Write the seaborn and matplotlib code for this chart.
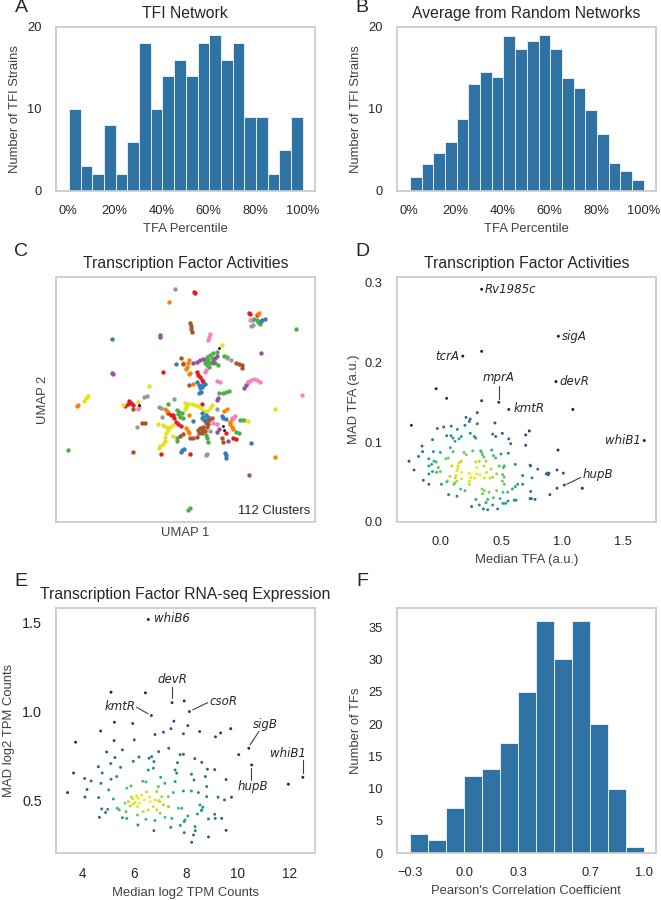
import numpy as np
import pandas as pd
import matplotlib
matplotlib.use("Agg")
import matplotlib.pyplot as plt
import seaborn as sns

# ---------- histogram data ----------
tfi_counts = [10, 3, 2, 8, 2, 6, 18, 10, 14, 16, 14, 18, 19, 16, 18, 9, 9, 2, 5, 9]
random_counts = [1.7, 3.2, 4.6, 6.0, 8.8, 13.0, 14.5, 13.9, 18.9, 17.3, 18.2, 19.0, 17.3,
                 13.8, 12.5, 9.9, 6.9, 3.4, 2.4, 1.3]
corr_counts = [3, 2, 7, 12, 13, 17, 25, 36, 30, 36, 20, 10, 1]
pct_ticks = [0, 20, 40, 60, 80, 100]
pct_labels = ["0%", "20%", "40%", "60%", "80%", "100%"]
corr_ticks = [-0.3, 0.0, 0.3, 0.7, 1.0]
corr_labels = ["\u22120.3", "0.0", "0.3", "0.7", "1.0"]

# ---------- panel D data ----------
tfa_median = [0.336,0.97,0.336,0.18,0.95,-0.04,0.047,0.336,0.477,0.56,1.09,1.68,-0.245,0.30,0.207,0.242,0.234,0.30,0.198,0.446,
 -0.03,0.022,0.135,0.085,-0.07,0.047,0.083,0.10,0.116,0.149,0.168,0.242,0.275,0.287,0.427,0.507,0.452,0.56,0.576,0.70,
 0.73,0.70,0.967,-0.157,-0.152,-0.185,-0.264,-0.223,-0.063,-0.005,0.10,0.077,0.06,0.04,-0.10,-0.058,-0.04,-0.10,-0.077,-0.022,
 -0.07,-0.10,-0.146,-0.10,-0.036,-0.006,0.047,0.003,0.063,0.132,0.19,0.209,0.15,0.14,0.168,0.088,0.14,0.13,0.17,0.124,
 0.118,0.132,0.17,0.074,0.052,0.116,0.163,0.198,0.107,0.262,0.328,0.336,0.344,0.355,0.317,0.372,0.287,0.419,0.433,0.452,
 0.496,0.556,0.614,0.482,0.515,0.523,0.355,0.295,0.413,0.229,0.24,0.295,0.322,0.25,0.234,0.245,0.234,0.278,0.358,0.405,
 0.427,0.46,0.51,0.523,0.507,0.523,0.377,0.339,0.358,0.397,0.344,0.46,0.512,0.488,0.433,0.386,0.372,0.289,0.253,0.317,
 0.35,0.386,0.468,0.427,0.512,0.534,0.554,0.606,0.62,0.551,0.59,0.614,0.634,0.675,0.675,0.752,0.736,0.741,0.80,0.87,
 0.882,0.893,0.887,0.959,1.011,1.019,0.959,0.90,1.168,0.741,0.736,0.747,0.777]
tfa_mad = [0.292,0.233,0.214,0.208,0.176,0.167,0.155,0.152,0.150,0.141,0.141,0.102,0.121,0.137,0.131,0.129,0.126,0.123,0.121,0.124,
 0.117,0.119,0.116,0.120,0.103,0.108,0.108,0.105,0.101,0.104,0.107,0.111,0.107,0.105,0.110,0.111,0.107,0.104,0.098,0.109,
 0.114,0.096,0.090,0.095,0.088,0.082,0.076,0.065,0.088,0.087,0.088,0.093,0.080,0.079,0.079,0.076,0.075,0.070,0.072,0.068,
 0.063,0.060,0.052,0.047,0.062,0.063,0.050,0.047,0.034,0.032,0.087,0.084,0.074,0.070,0.076,0.070,0.067,0.064,0.062,0.058,
 0.055,0.051,0.054,0.057,0.051,0.049,0.041,0.039,0.047,0.089,0.089,0.087,0.084,0.081,0.076,0.076,0.075,0.090,0.083,0.080,
 0.085,0.086,0.072,0.070,0.068,0.070,0.070,0.068,0.066,0.061,0.060,0.060,0.059,0.056,0.051,0.055,0.047,0.055,0.055,0.055,
 0.056,0.060,0.059,0.056,0.051,0.047,0.062,0.041,0.039,0.037,0.035,0.039,0.037,0.029,0.030,0.028,0.024,0.028,0.019,0.021,
 0.016,0.015,0.016,0.021,0.023,0.023,0.026,0.027,0.027,0.037,0.041,0.044,0.047,0.047,0.058,0.055,0.071,0.070,0.066,0.060,
 0.061,0.061,0.059,0.065,0.061,0.046,0.042,0.034,0.042,0.038,0.029,0.029,0.028]

# ---------- panel E data ----------
rna_median = [6.55,5.11,6.44,7.94,7.47,8.14,6.67,5.24,5.95,7.54,8.08,7.43,4.71,3.74,5.23,6.01,6.81,7.14,7.91,8.54,
 9.15,9.35,9.74,10.44,10.05,10.55,12.53,11.97,3.66,3.43,4.09,4.34,4.18,4.10,4.62,4.94,5.26,5.55,5.10,4.77,
 4.72,5.11,5.02,4.63,4.75,4.98,4.90,4.66,5.2,5.35,5.43,5.55,5.72,5.69,6.15,6.46,6.77,6.81,7.42,7.79,
 7.94,7.97,8.23,8.30,8.37,8.88,9.56,9.39,9.12,8.88,8.45,8.62,8.81,9.25,9.50,9.77,9.56,9.12,8.84,8.62,
 8.35,7.91,7.78,7.34,6.95,6.68,5.97,6.19,5.48,5.33,5.72,5.88,6.34,6.46,6.55,6.75,6.58,6.77,7.03,7.19,
 6.94,7.59,7.65,7.68,8.22,8.32,8.76,7.91,8.22,8.49,8.81,7.59,7.33,7.52,6.49,6.88,6.10,5.95,6.17,5.78,
 5.65,5.97,6.14,5.85,6.36,6.13,6.55,6.75,6.88,7.14,7.33,7.07,6.81,6.62,7.0,6.39,6.21,7.72,7.85,8.08,
 8.55,8.66,8.61,7.01,7.2,7.46,7.94,8.36,9.14,6.3,6.6,6.95,5.9,6.05]
rna_mad = [1.517,1.109,1.105,1.06,1.05,1.00,0.978,0.94,0.933,0.946,0.921,0.904,0.891,0.828,0.837,0.841,0.871,0.884,0.875,0.888,
 0.858,0.880,0.904,0.794,0.758,0.70,0.631,0.592,0.655,0.545,0.624,0.61,0.562,0.52,0.69,0.773,0.742,0.785,0.708,0.655,
 0.597,0.62,0.56,0.517,0.453,0.451,0.433,0.406,0.509,0.457,0.448,0.404,0.40,0.438,0.363,0.395,0.331,0.388,0.35,0.361,
 0.32,0.391,0.266,0.307,0.331,0.296,0.333,0.40,0.423,0.397,0.425,0.448,0.522,0.519,0.504,0.519,0.618,0.674,0.676,0.715,
 0.736,0.76,0.758,0.794,0.775,0.747,0.721,0.745,0.687,0.635,0.57,0.582,0.609,0.605,0.672,0.682,0.738,0.719,0.631,0.597,
 0.579,0.672,0.654,0.713,0.648,0.616,0.635,0.554,0.554,0.545,0.579,0.607,0.522,0.545,0.549,0.551,0.526,0.511,0.513,0.494,
 0.485,0.481,0.466,0.47,0.438,0.419,0.448,0.466,0.448,0.476,0.466,0.522,0.504,0.494,0.494,0.504,0.485,0.457,0.457,0.414,
 0.476,0.463,0.444,0.429,0.406,0.40,0.382,0.354,0.40,0.53,0.52,0.50,0.52,0.49]

# ---------- panel C data: UMAP coordinates (arbitrary units) per colour ----------
umap_red_1 = [583,586,747,749,770,489,590,595,600,605,610,376,384,392,398,386,607,505,513,520,522,528,535,542,677,483,570,700,708]
umap_red_2 = [66,68,128,132,136,305,306,314,322,330,336,407,402,400,405,392,403,430,435,435,445,455,462,468,490,553,553,505,506]
umap_orange_1 = [507,778,773,568,563,560,557,549,570,566,578,230,235,495,500,568,558,563,566,680,673,703,695,690,690,695,700,825]
umap_orange_2 = [95,128,133,270,280,290,297,280,308,312,343,408,404,418,424,435,475,483,490,418,422,440,447,455,463,472,478,562]
umap_yellow_1 = [666,447,251,258,265,369,413,825,555,558,555,565,575,585,595,603,612,622,630,636,475,490,497,503,510,518,497,495,494,488,480,477,518,735,745]
umap_yellow_2 = [224,348,392,385,378,405,395,418,400,410,418,403,402,405,408,415,423,422,415,405,462,465,472,480,472,465,488,500,512,522,528,533,497,451,452]
umap_green_1 = [889,203,755,762,770,775,780,617,622,630,640,650,625,635,628,620,635,640,615,628,645,655,673,680,658,668,678,686,505,530,537,545,540,548,535,720,728,708,716,617,620,624,530,530,565,570]
umap_green_2 = [176,540,150,148,150,155,163,270,262,255,250,245,270,265,278,285,280,272,280,290,280,285,257,262,370,368,367,363,403,420,425,430,440,443,432,450,450,485,488,495,505,515,505,512,720,713]
umap_blue_1 = [335,527,785,795,783,592,597,600,603,598,610,615,605,605,610,618,625,605,612,620,665,670,678,578,753,545,552,543,675,677,678]
umap_blue_2 = [206,282,150,148,152,335,345,355,365,368,345,342,352,430,440,435,440,445,450,450,437,445,448,453,519,540,536,545,548,556,564]
umap_purple_1 = [480,480,335,340,784,580,590,600,608,640,646,650,733,738,743,652,655,650,657,683,747]
umap_purple_2 = [196,200,308,313,248,278,275,270,266,275,265,258,355,345,337,390,383,485,476,512,616]
umap_pink_1 = [630,627,625,618,616,650,660,743,752,762,772,780,905,417,415,750,640,650,695,705]
umap_pink_2 = [192,202,210,300,305,332,336,335,331,327,330,337,375,412,417,150,458,463,445,437]
umap_brown_1 = [569,572,572,577,544,549,707,716,725,725,425,435,400,399,540,550,570,580,590,598,605,610,618,628,635,600,610,620,595,605,615,625,665,670,566]
umap_brown_2 = [158,168,178,185,264,282,278,282,285,293,460,458,418,546,497,493,503,503,500,490,480,470,460,450,445,475,480,470,480,490,482,462,505,515,345]
umap_gray_1 = [525,753,758,682,692,440,432,522,478,484,485,412,652,630,618,622]
umap_gray_2 = [56,168,165,265,270,377,380,387,412,415,440,472,417,483,555,553]
umap_black_1 = [657,417,668,672]
umap_black_2 = [235,404,468,479]

umap_groups = [
    ("#e41a1c", umap_red_1, umap_red_2), ("#ff7f00", umap_orange_1, umap_orange_2),
    ("#e3e31a", umap_yellow_1, umap_yellow_2), ("#4daf4a", umap_green_1, umap_green_2),
    ("#377eb8", umap_blue_1, umap_blue_2), ("#984ea3", umap_purple_1, umap_purple_2),
    ("#f781bf", umap_pink_1, umap_pink_2), ("#a65628", umap_brown_1, umap_brown_2),
    ("#999999", umap_gray_1, umap_gray_2),
]

# annotations: name, text position, optional line start, line end
tfa_notes = [("Rv1985c", .578, .2916, None), ("sigA", 1.10, .233, None), ("tcrA", .055, .208, None),
             ("mprA", .477, .181, (.477, .171, .477, .154)), ("devR", 1.10, .176, None), ("kmtR", .727, .1416, None),
             ("whiB1", 1.507, .1017, None), ("hupB", 1.295, .0597, (1.154, .0555, 1.039, .047))]
rna_notes = [("whiB6", 7.45, 1.52, None), ("devR", 7.5, 1.178, (7.47, 1.14, 7.47, 1.075)),
             ("kmtR", 5.46, 1.028, (6.1, 1.024, 6.55, .987)), ("csoR", 9.46, 1.056, (8.85, 1.05, 8.27, 1.01)),
             ("sigB", 11.07, .93, (10.83, .888, 10.49, .813)), ("whiB1", 11.97, .762, (12.53, .728, 12.53, .654)),
             ("hupB", 10.58, .579, (10.54, .616, 10.54, .682))]

# ---------- style ----------
sns.set_theme(style="whitegrid", rc={"axes.grid": False, "axes.edgecolor": ".8", "axes.linewidth": 1.3,
                                     "xtick.bottom": False, "ytick.left": False})
plt.rcParams["font.family"] = ["Liberation Sans", "DejaVu Sans"]
TXT = ".15"
W, H = 661, 900
fig = plt.figure(figsize=(W / 100, H / 100), dpi=100)

def make_ax(x0, x1, y0, y1):
    return fig.add_axes([x0 / W, 1 - y1 / H, (x1 - x0) / W, (y1 - y0) / H])

LEFT = (55.7, 315)
RIGHT = (396.7, 656)

def finish(ax, title, xlabel, ylabel, tick=9.3, ytick=None, xpad=4.5, ypad=4.5):
    ax.set_xlabel(xlabel, fontsize=9.4, color=".25", labelpad=xpad)
    ax.set_ylabel(ylabel, fontsize=9.4, color=".25", labelpad=ypad)
    ax.tick_params(axis="x", labelsize=tick, labelcolor=TXT, pad=4)
    ax.tick_params(axis="y", labelsize=ytick or tick, labelcolor=TXT, pad=4)
    if title:
        ax.set_title(title, fontsize=11.35, color=TXT, pad=6.5)

def hist(ax, counts, edges):
    edges = [float(e) for e in edges]
    centers = [(a + b) / 2 for a, b in zip(edges[:-1], edges[1:])]
    sns.histplot(x=centers, weights=counts, bins=edges, ax=ax, color="#2f72a4", alpha=1,
                 edgecolor="#e8eef3", linewidth=0.7)

# A
ax = make_ax(*LEFT, 26.7, 190.7)
hist(ax, tfi_counts, np.linspace(0.5, 100, 21))
ax.set_xlim(-5.1, 105.2); ax.set_ylim(0, 20)
ax.set_xticks(pct_ticks, pct_labels); ax.set_yticks([0, 10, 20])
finish(ax, "TFI Network", "TFA Percentile", "Number of TFI Strains")

# B
ax = make_ax(*RIGHT, 26.7, 190.7)
hist(ax, random_counts, np.linspace(0.5, 100, 21))
ax.set_xlim(-5.1, 105.2); ax.set_ylim(0, 20)
ax.set_xticks(pct_ticks, pct_labels); ax.set_yticks([0, 10, 20])
finish(ax, "Average from Random Networks", "TFA Percentile", "Number of TFI Strains")

# C
ax = make_ax(*LEFT, 277.3, 521.7)
for col, u1, u2 in umap_groups:
    sns.scatterplot(x=u1, y=u2, color=col, s=10, linewidth=0, ax=ax, legend=False)
sns.scatterplot(x=umap_black_1, y=umap_black_2, color="black", s=4, linewidth=0, ax=ax, legend=False)
ax.set_xlim(167, 945); ax.set_ylim(755, 22)
ax.set_xticks([]); ax.set_yticks([])
finish(ax, "Transcription Factor Activities", "UMAP 1", "UMAP 2", xpad=4, ypad=4.5)
ax.text(0.98, 0.045, "112 Clusters", transform=ax.transAxes, ha="right", va="center", fontsize=9.4, color=TXT)

def density(x, y):
    xy = np.vstack([x, y]).astype(float)
    cov = np.cov(xy) * len(x) ** (-1 / 3)
    inv = np.linalg.inv(cov)
    d = xy[:, None, :] - xy[:, :, None]
    q = np.einsum("ijk,il,ljk->jk", d, inv, d)
    return np.exp(-q / 2).sum(axis=0)

def scatter_panel(ax, x, y, notes):
    df = pd.DataFrame({"x": x, "y": y})
    df["d"] = density(x, y)
    df = df.sort_values("d")
    sns.scatterplot(data=df, x="x", y="y", hue="d", palette="viridis", s=4.5, linewidth=0, ax=ax, legend=False)
    for name, tx, ty, line in notes:
        ax.text(tx, ty, name, style="italic", fontsize=8.5, family="DejaVu Sans", ha="center", va="center", color=TXT)
        if line:
            ax.plot(line[0::2], line[1::2], color=".25", lw=0.8)

# D
ax = make_ax(*RIGHT, 277.3, 521.7)
scatter_panel(ax, tfa_median, tfa_mad, tfa_notes)
ax.set_xlim(-0.366, 1.777); ax.set_ylim(0, 0.307)
ax.set_xticks([0, 0.5, 1.0, 1.5]); ax.set_yticks([0, 0.1, 0.2, 0.3])
finish(ax, "Transcription Factor Activities", "Median TFA (a.u.)", "MAD TFA (a.u.)", ypad=3.5)

# E
ax = make_ax(*LEFT, 608.3, 853.3)
scatter_panel(ax, rna_median, rna_mad, rna_notes)
ax.set_xlim(2.97, 13.0); ax.set_ylim(0.204, 1.58)
ax.set_xticks([4, 6, 8, 10, 12]); ax.set_yticks([0.5, 1.0, 1.5])
finish(ax, "Transcription Factor RNA-seq Expression", "Median log2 TPM Counts", "MAD log2 TPM Counts", tick=9.8, ytick=10.4, ypad=5)

# F
ax = make_ax(*RIGHT, 608.3, 853.3)
hist(ax, corr_counts, np.linspace(-0.3, 1.0, 14))
ax.set_xlim(-0.374, 1.064); ax.set_ylim(0, 37.9)
ax.set_xticks(corr_ticks, corr_labels); ax.set_yticks(range(0, 36, 5))
finish(ax, None, "Pearson's Correlation Coefficient", "Number of TFs")

# panel letters
for letter, px, py in [("A", 21, 7), ("B", 362, 7), ("C", 21, 251), ("D", 362, 251), ("E", 21, 582), ("F", 362, 582)]:
    fig.text(px / W, 1 - py / H, letter, fontsize=14, ha="center", va="center", color=TXT)

fig.savefig("out.png", dpi=100)
